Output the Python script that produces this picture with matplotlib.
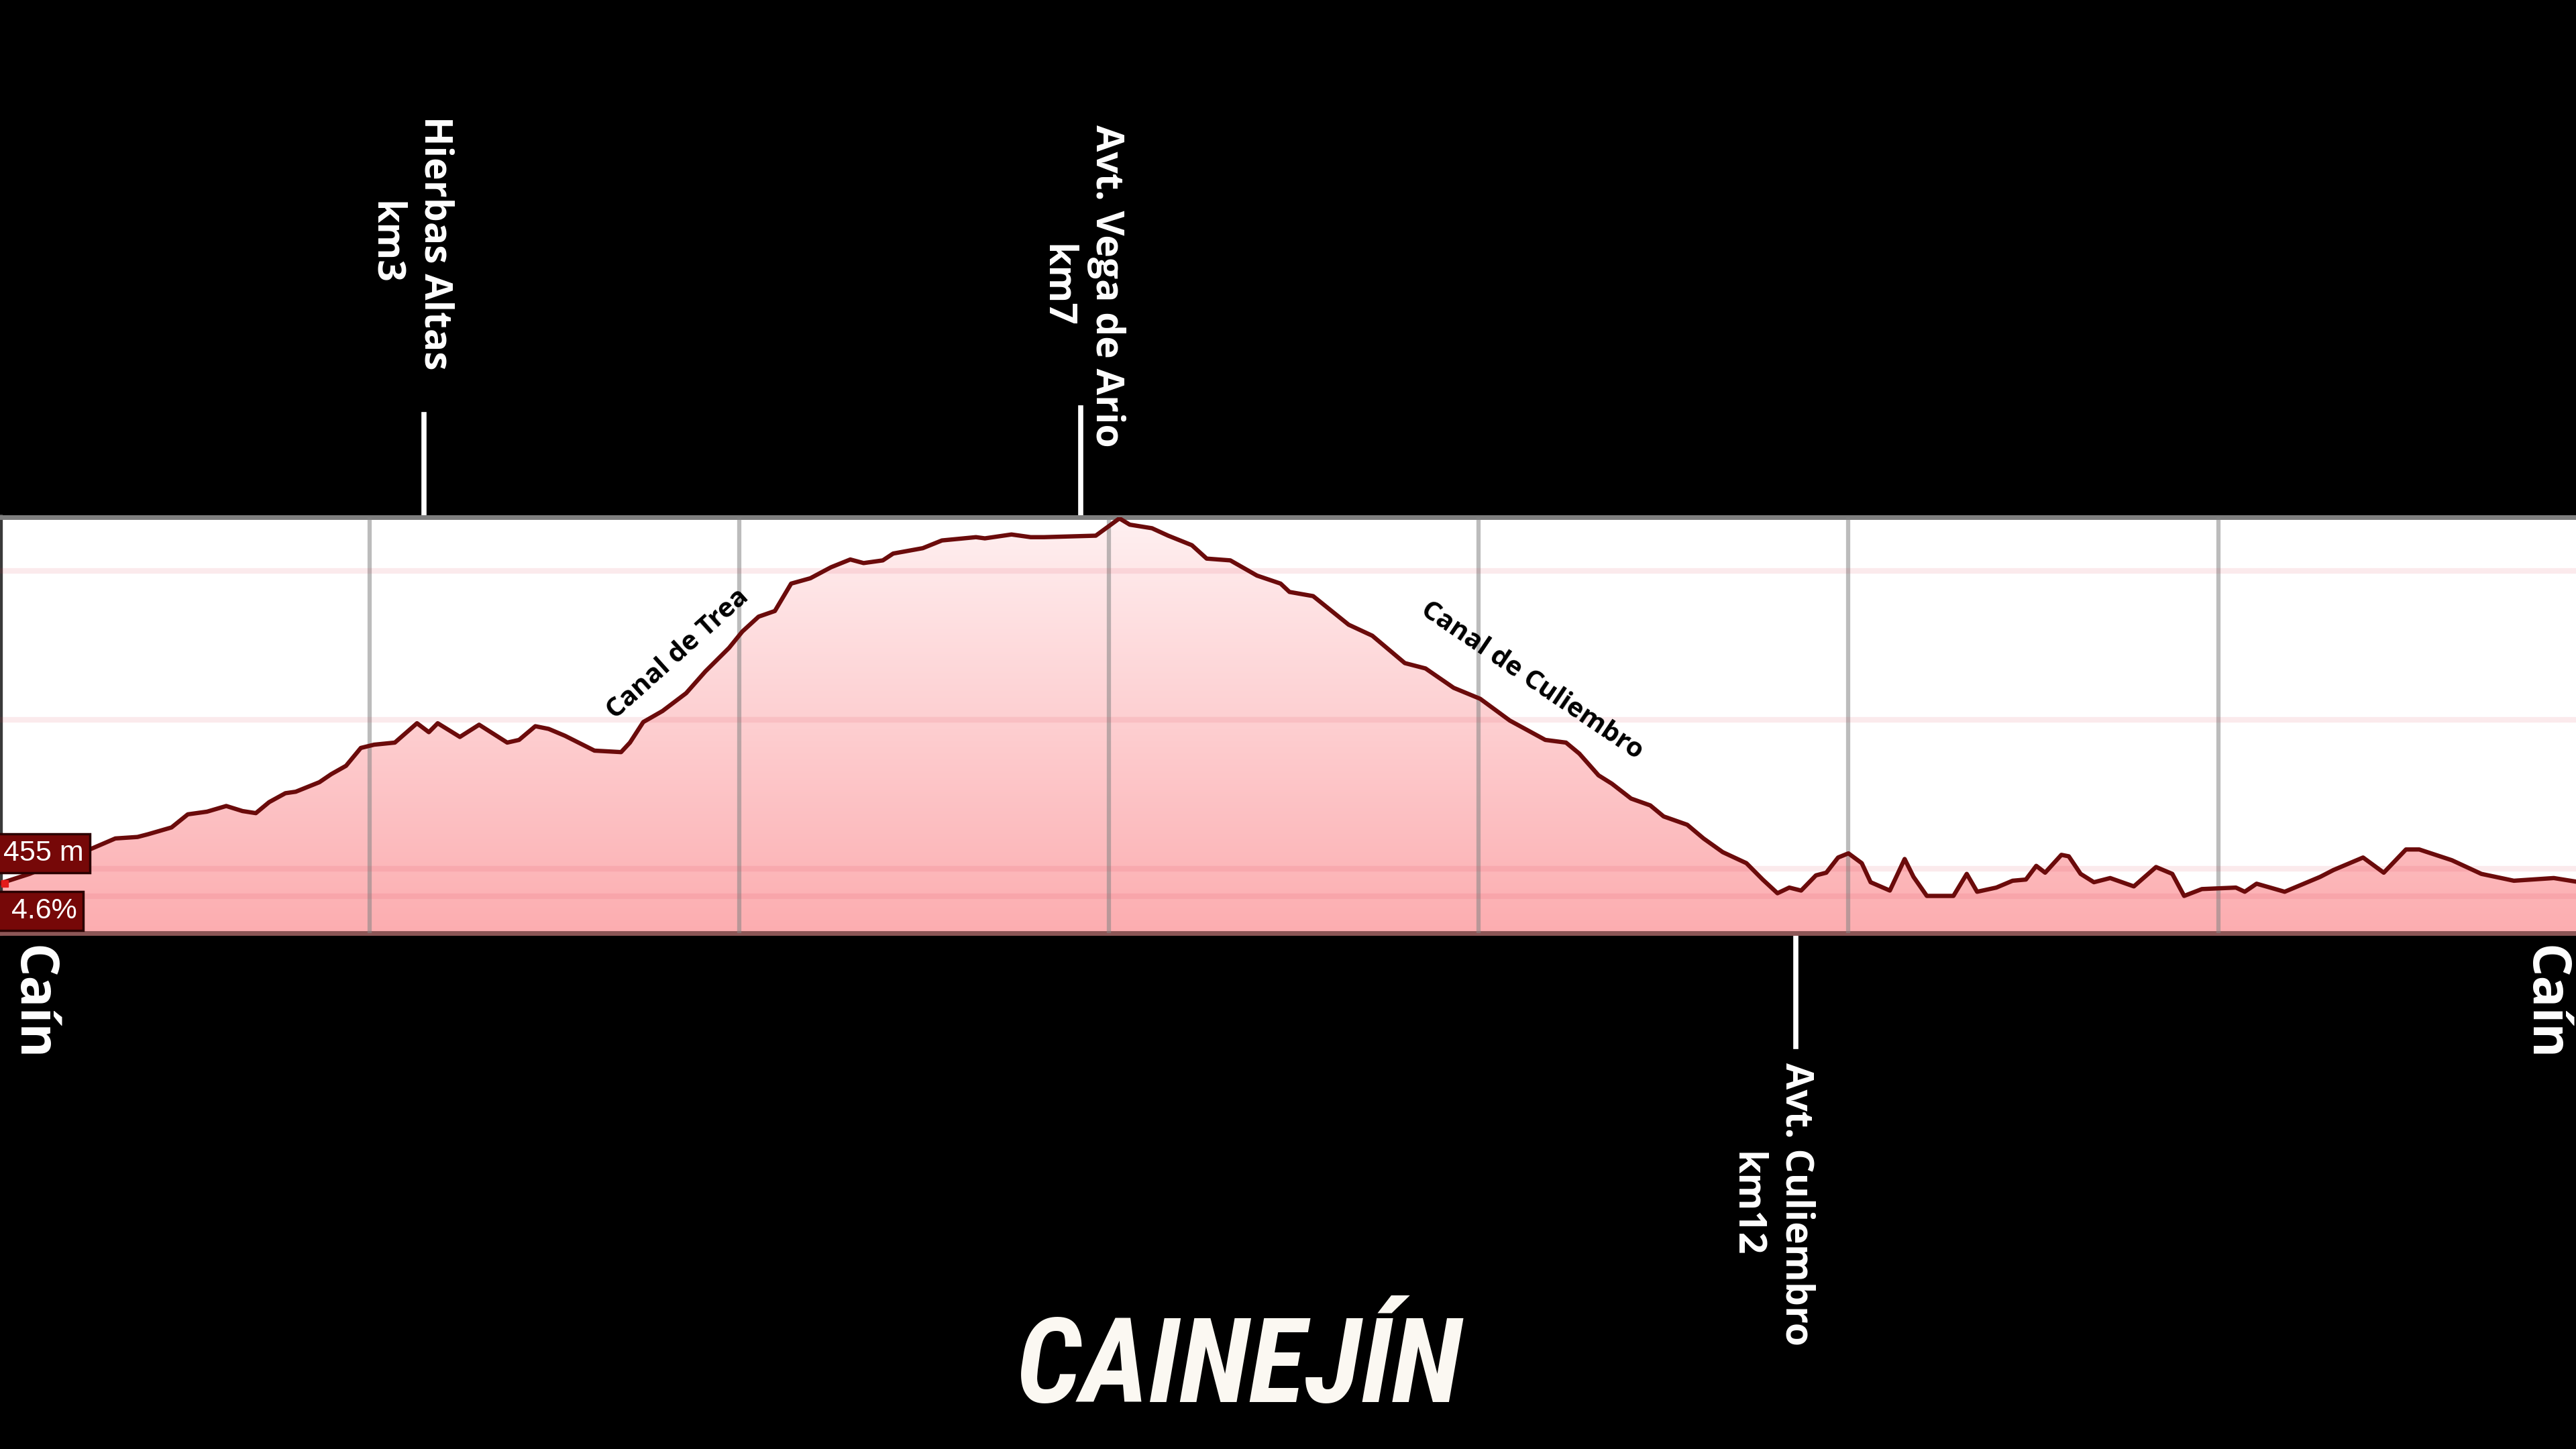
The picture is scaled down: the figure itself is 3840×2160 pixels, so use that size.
# -*- coding: utf-8 -*-

import numpy as np
import matplotlib
matplotlib.use('Agg')
import matplotlib.pyplot as plt
import matplotlib.transforms as mtransforms
from matplotlib import font_manager
from matplotlib.colors import to_rgb

# =============================================================================
#                       PERFIL CAINEJIN (distancia km / altitud m)
# =============================================================================

dist_km = [0.0, 0.2, 0.63, 0.78, 0.93, 1.0, 1.16, 1.27, 1.4, 1.53, 1.64, 1.73, 1.82, 1.93, 2.0, 2.16, 2.24, 2.34, 2.44, 2.53, 2.67, 2.82, 2.9, 2.96, 3.11, 3.24, 3.43,
           3.51, 3.62, 3.71, 3.82, 4.02, 4.20, 4.26, 4.35, 4.48, 4.64, 4.77, 4.93, 5.02, 5.13, 5.24, 5.35, 5.48, 5.62, 5.75, 5.84, 5.97, 6.04, 6.24, 6.37, 6.6, 6.66, 6.84, 6.97,
           7.06, 7.41, 7.57, 7.64, 7.79, 7.9, 8.06, 8.16, 8.32, 8.5, 8.66, 8.72, 8.88, 8.97, 9.12, 9.28, 9.5, 9.64, 9.83, 10.01, 10.21, 10.45,
           10.59, 10.68, 10.81, 10.9, 11.03, 11.16, 11.25, 11.41, 11.52, 11.65, 11.81, 11.92, 12.02, 12.1, 12.18, 12.28, 12.35, 12.43, 12.5, 12.59, 12.65, 12.78, 12.88, 12.94, 13.03, 13.21, 13.3, 13.37, 13.5, 13.61, 13.7, 13.77, 13.83, 13.94,
           13.99, 14.07, 14.16, 14.27, 14.43, 14.58, 14.69, 14.77, 14.89, 15.12, 15.18, 15.26, 15.45, 15.69, 15.78, 15.98, 16.12, 16.27, 16.36, 16.58, 16.78, 17.0, 17.27, 17.42]

elev_m = [450, 482, 569, 601, 606, 615, 638, 682, 691, 710, 693, 686, 723, 753, 758, 790, 817, 845, 905, 916, 923, 988, 958, 988, 942, 983, 923,
          932, 978, 969, 946, 896, 891, 923, 992, 1029, 1089, 1162, 1241, 1296, 1346, 1365, 1457, 1475, 1512, 1538, 1526, 1535, 1558, 1576, 1602, 1613, 1609, 1622, 1613,
          1613, 1618, 1676, 1655, 1643, 1618, 1586, 1541, 1535, 1484, 1457, 1429, 1415, 1379, 1319, 1282, 1190, 1172, 1107, 1070, 997, 932,
          923, 886, 813, 785, 735, 712, 675, 647, 601, 555, 518, 463, 417, 436, 426, 477, 486, 537, 551, 518, 454, 426, 532, 472, 408, 408, 482, 422, 436, 459, 463, 509, 486, 546,
          541, 482, 454, 468, 440, 505, 482, 408, 431, 436, 422, 449, 422, 472, 495, 537, 486, 564, 564, 528, 482, 459, 468, 456]

grid_km = [2.5, 5.0, 7.5, 10.0, 12.5, 15.0]
grid_elev = [406, 500, 1000, 1500]

marker_km = [2.867, 7.31, 12.146]
marker_txt = ['Hierbas Altas\nkm3', 'Avt. Vega de Ario\nkm7', 'Avt. Culiembro\nkm12']

cursor_alt = '455 m'
cursor_pct = '4.6%'

x_max = 17.42
y_min, y_max = 283, 1680

W, H = 3840, 2160
def fx(px):
    return px / W
def fy(py):
    return 1 - py / H

names = {f.name for f in font_manager.fontManager.ttflist}
title_family = next((n for n in ['Liberation Sans Narrow', 'Roboto Condensed', 'Open Sans Condensed']
                     if n in names), 'DejaVu Sans')

# =============================================================================
#                              PLOTEO
# =============================================================================

fig = plt.figure(figsize=(38.4, 21.6), dpi=100, facecolor='black')
ax = fig.add_axes([0, fy(1391), 1, 620 / H])
ax.set_facecolor('white')
ax.set_xlim(0, x_max)
ax.set_ylim(y_min, y_max)

# relleno con degradado
top_c = np.array(to_rgb('#fff0f1'))
bot_c = np.array(to_rgb('#fcadb0'))
t = np.linspace(0, 1, 256)[:, None]
grad = (top_c * (1 - t) + bot_c * t)[:, None, :]
img = ax.imshow(grad, extent=[0, x_max, y_min, y_max], aspect='auto', origin='upper', zorder=1)
poly = ax.fill_between(dist_km, elev_m, y_min, color='none', lw=0)
img.set_clip_path(poly.get_paths()[0], transform=ax.transData)

ax.set_xticks(grid_km)
ax.set_yticks(grid_elev)
ax.set_axisbelow(False)
ax.grid(axis='x', color='#858585', alpha=0.55, lw=4.5)
ax.grid(axis='y', color='#d9334c', alpha=0.1, lw=6)
ax.tick_params(length=0, labelbottom=False, labelleft=False)

ax.plot(dist_km, elev_m, color='#6b0b0b', lw=4.6, zorder=4, solid_joinstyle='round')
ax.plot(dist_km[0] + 0.03, elev_m[0], 's', color='#e31b1b', ms=7, zorder=5, clip_on=False)

ax.spines['right'].set_visible(False)
ax.spines['top'].set_color('#7f7f7f')
ax.spines['top'].set_linewidth(5)
ax.spines['bottom'].set_color('#8c5656')
ax.spines['bottom'].set_linewidth(5)
ax.spines['left'].set_color('#3a3a3a')
ax.spines['left'].set_linewidth(6)

# marcas de puntos de paso
trans = mtransforms.blended_transform_factory(ax.transData, ax.transAxes)
ax.plot([marker_km[0]] * 2, [1.0, 1.247], transform=trans, clip_on=False, color='white', lw=5.5)
ax.plot([marker_km[1]] * 2, [1.0, 1.263], transform=trans, clip_on=False, color='white', lw=5.5)
ax.plot([marker_km[2]] * 2, [-0.002, -0.273], transform=trans, clip_on=False, color='white', lw=5.5)

lab = dict(rotation=-90, ha='center', va='center', multialignment='center', color='white',
           fontsize=41, family='Open Sans', weight='bold', linespacing=1.38)
fig.text(fx(611), fy(362), marker_txt[0], **lab)
fig.text(fx(1612), fy(426), marker_txt[1], **lab)
fig.text(fx(2640), fy(1795), marker_txt[2], **lab)

cain = dict(rotation=-90, ha='center', va='center', color='white', fontsize=56,
            family='Open Sans', weight='bold')
fig.text(fx(47), fy(1495), 'Caín', **cain)
fig.text(fx(3792), fy(1495), 'Caín', **cain)

canal = dict(ha='center', va='center', color='black', fontsize=29, family='Open Sans', weight='bold')
fig.text(fx(1010), fy(975), 'Canal de Trea', rotation=42, **canal)
fig.text(fx(2284), fy(1014), 'Canal de Culiembro', rotation=-34, **canal)

box = dict(ha='left', va='center', color='white', fontsize=31, family='Liberation Sans')
fig.text(fx(5), fy(1272), cursor_alt,
         bbox=dict(boxstyle='square,pad=0.22', fc='#760808', ec='#2a0000', lw=2.5), **box)
fig.text(fx(5), fy(1358), ' ' + cursor_pct,
         bbox=dict(boxstyle='square,pad=0.22', fc='#760808', ec='#2a0000', lw=2.5), **box)

fig.text(fx(1847), fy(2042), 'CAINEJÍN', ha='center', va='center', color='#fbf8f2',
         fontsize=126, family=title_family, weight='bold', style='italic', fontstretch='condensed')

fig.savefig('out.png', dpi=100, facecolor='black')
